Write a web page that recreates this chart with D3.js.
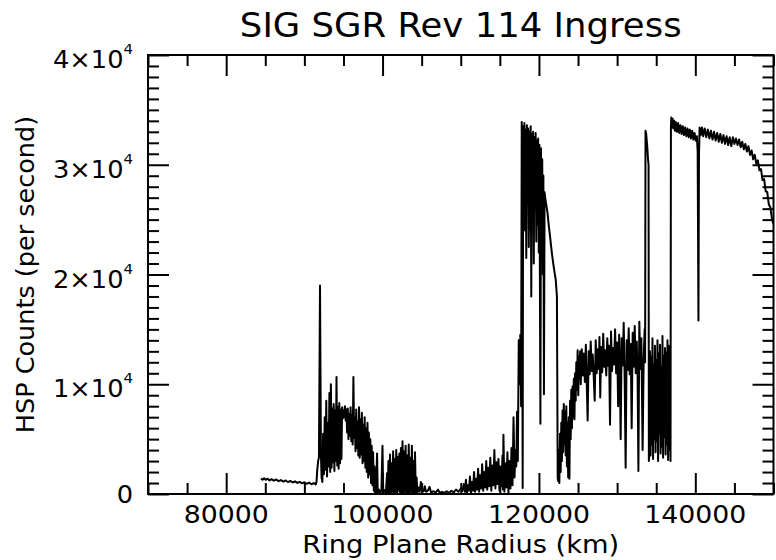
<!DOCTYPE html>
<html><head><meta charset="utf-8">
<script src="https://cdn.jsdelivr.net/npm/d3@7"></script>
<style>body{margin:0;background:#fff}svg{display:block}text{font-family:"DejaVu Sans",sans-serif;fill:#000}</style>
</head><body>
<svg id="chart" width="776" height="560"></svg>
<script>
const titleText = "SIG SGR Rev 114 Ingress";
const xLabel = "Ring Plane Radius (km)";
const yLabel = "HSP Counts (per second)";
const xMajorTicks = [80000, 100000, 120000, 140000];
const yMajorTicks = [0, 10000, 20000, 30000, 40000];
const yTickMantissa = ["0", "1", "2", "3", "4"];

// [ring plane radius (km), HSP counts per second]
const cRing = [[84450,1420],[84650,1300],[84850,1440],[85050,1290],[85300,1390],[85550,1240],[85800,1350],[86100,1210],[86400,1320],[86700,1170],[87000,1270],[87300,1130],[87600,1230],[87900,1090],[88200,1190],[88500,1050],[88800,1150],[89100,1010],[89400,1110],[89700,970],[90000,1070],[90300,930],[90600,1030],[90900,890],[91200,990],[91450,880]];
const bRingEdge = [[91550,1100],[91650,2200],[91760,3000],[91860,3300],[91940,12000],[92000,19000],[92060,11000],[92120,3500],[92200,1500],[92300,1100]];
const bRingInner = [[92400,5500],[92500,1800],[92600,7000],[92700,2200],[92800,8500],[92900,1600],[93000,6500],[93100,2500],[93200,9200],[93300,2000],[93390,10000],[93480,2400],[93570,7800],[93660,2900],[93750,8200],[93840,2100],[93930,7600],[94020,3000],[94110,10650],[94200,2600],[94290,7900],[94380,2300],[94470,8300],[94560,2800],[94650,7700],[94740,3200],[94830,7900],[94920,6900],[95010,7600],[95100,7000],[95190,8000],[95280,6700],[95370,7700],[95460,5600],[95550,7800],[95640,5000],[95730,7300],[95820,5300],[95910,7900],[96000,4800],[96090,7200],[96180,4500],[96270,10650],[96360,5100],[96450,7000],[96540,3900],[96630,7700],[96720,4200],[96810,6600],[96900,3500],[96990,7900],[97080,3300],[97170,6800],[97260,3600],[97350,7400],[97440,2800],[97530,6300],[97620,3000],[97710,7000],[97800,2400],[97890,6000],[97980,2000],[98070,6500],[98160,1500],[98250,5600],[98340,1800],[98430,5000],[98520,1000],[98610,4400],[98700,800],[98790,3800],[98880,300],[98970,2500],[99050,100]];
const bRingGap = [[99150,50],[99300,3700],[99380,100],[99550,400],[99700,50],[99850,300],[99990,4400],[100080,150],[100250,350],[100420,50],[100580,1900],[100660,100]];
const bRingCore = [[100750,3000],[100850,100],[100950,3600],[101050,0],[101150,2800],[101250,200],[101350,3900],[101450,0],[101550,3200],[101650,100],[101750,4000],[101850,0],[101950,3400],[102050,300],[102150,3700],[102250,0],[102350,4200],[102450,100],[102550,4800],[102650,0],[102750,3900],[102850,200],[102950,4400],[103050,0],[103150,3500],[103250,100],[103350,4500],[103450,0],[103550,3300],[103650,200],[103750,4400],[103850,0],[103950,3000],[104050,100],[104150,3800],[104250,0],[104350,1500],[104450,100]];
const bRingOpaque = [[104600,600],[104750,200],[104900,1100],[105050,300],[105250,250],[105400,700],[105550,200],[105800,300],[106000,650],[106200,150],[106500,250],[106800,150],[107100,400],[107300,100],[107600,200],[107900,100],[108200,250],[108500,100],[108800,300],[109100,150],[109400,400],[109700,200],[110000,500],[110200,250]];
const bRingOuter = [[110400,900],[110530,200],[110660,1300],[110790,100],[110920,800],[111050,300],[111180,1600],[111310,100],[111440,1100],[111570,300],[111700,2000],[111830,200],[111960,1400],[112090,400],[112220,2300],[112350,200],[112480,1700],[112610,500],[112740,2700],[112870,300],[113000,2000],[113130,600],[113260,3000],[113390,400],[113520,2400],[113650,700],[113780,3300],[113910,300],[114040,2600],[114170,800],[114300,4000],[114430,500],[114560,2900],[114690,900],[114820,3200],[114950,300],[115080,2500],[115210,700],[115340,3500],[115400,400],[115460,5400],[115580,200],[115710,2800],[115840,600],[115970,3800],[116100,100],[116230,3000],[116360,500],[116490,4200],[116620,800],[116750,7000],[116880,1500],[116990,4000],[117100,2500]];
const cassiniDivision = [[117200,7500],[117300,3000],[117420,14000],[117520,10000],[117620,14500],[117720,8000],[117800,33900],[117860,20000],[117920,550],[117980,33500],[118060,26000],[118140,33800],[118220,24000],[118300,33200],[118380,21500],[118460,33600],[118540,27000],[118620,33300],[118700,22500],[118780,33000],[118860,24200],[118940,33500],[119020,18000],[119100,32800],[119180,25000],[119260,33000],[119340,21000],[119420,32500],[119500,26000],[119580,32900],[119660,23000],[119740,32200],[119820,24500],[119900,32400],[119980,22000],[120060,31800],[120190,6400],[120260,31500],[120340,22000],[120420,30500],[120500,20000],[120570,29000],[120640,9100],[120720,27500],[120800,27000],[120950,26300],[121100,25600],[121250,24500],[121400,23600],[121550,22600],[121700,21700],[121850,20900],[122000,20200],[122150,19500],[122300,18000],[122400,1500]];
const aRingInner = [[122450,1200],[122530,4000],[122610,1000],[122700,5500],[122780,2000],[122860,6500],[122940,3000],[123020,7600],[123100,3800],[123180,8200],[123260,4500],[123340,7500],[123420,3500],[123500,8000],[123580,2500],[123660,6500],[123740,1500],[123820,7000],[123900,1400],[123980,8500],[124060,5000],[124140,9500],[124220,6000],[124300,9800],[124380,7000],[124460,10500],[124540,6800],[124620,11000],[124700,8500],[124780,12000],[124860,9500],[124950,13100],[125030,9000],[125110,12500],[125190,10500],[125270,13000],[125350,10000]];
const aRingMain = [[125480,13200],[125610,10800],[125740,12800],[125870,10200],[126000,13600],[126100,10500],[126230,6700],[126360,13000],[126490,10900],[126620,13900],[126750,11200],[126880,12700],[127010,10600],[127130,8500],[127260,14000],[127390,11000],[127520,13200],[127650,11400],[127740,14300],[127840,8800],[127960,13400],[128090,11100],[128220,14600],[128350,11600],[128480,13100],[128610,10800],[128740,14200],[128870,11700],[128960,13500],[129090,6300],[129220,14800],[129350,11200],[129480,13300],[129610,11800],[129740,15000],[129870,11000],[130000,13800],[130130,8000],[130260,14500],[130350,11500],[130450,5000],[130580,14200],[130710,11700],[130840,15600],[130960,10800],[131090,2400],[131220,14000],[131350,11300],[131480,15100],[131610,10900],[131740,13700],[131860,6000],[131990,14700],[132120,11600],[132250,15300],[132380,11000],[132510,13900],[132620,10600],[132720,2100],[132840,15700],[132970,11400],[133100,14200],[133260,4000],[133400,12500],[133520,15000]];
const enckeGap = [[133580,12000],[133630,33100],[133700,32900],[133780,32300],[133860,31600],[133950,30500],[134020,30000],[134060,3000]];
const aRingOuter = [[134120,4000],[134200,13000],[134280,3500],[134360,12500],[134440,4500],[134520,14200],[134600,3200],[134680,11800],[134760,5000],[134840,13500],[134920,3800],[135000,12200],[135080,4800],[135160,14000],[135240,3000],[135320,12800],[135400,5500],[135480,13600],[135560,3700],[135640,11500],[135720,4300],[135800,14400],[135880,3300],[135960,12600],[136040,5200],[136120,13300],[136200,3600],[136280,12900],[136360,4500],[136440,14000],[136520,3100],[136600,13500],[136680,4000],[136760,12000],[136830,3000]];
const beyondRings = [[136880,33400],[136930,34300],[137000,33400],[137100,34200],[137200,33300],[137300,34000],[137400,33100],[137500,33900],[137650,33000],[137800,33800],[137950,32900],[138100,33600],[138250,32800],[138400,33500],[138550,32700],[138700,33400],[138850,32600],[139000,33300],[139150,32500],[139300,33200],[139450,32400],[139600,33100],[139750,32300],[139900,32900],[140050,32200],[140200,32600],[140300,31200],[140400,15800],[140470,30800],[140550,33400],[140700,32700],[140850,33400],[141000,32600],[141200,33300],[141400,32500],[141600,33200],[141800,32400],[142000,33100],[142200,32300],[142400,33000],[142600,32200],[142800,32900],[143000,32100],[143200,32800],[143400,32000],[143600,32700],[143800,31900],[144000,32600],[144200,31800],[144400,32500],[144600,31700],[144800,32500],[145000,31900],[145200,32400],[145400,31800],[145600,32300],[145800,31600],[146000,32100],[146200,31400],[146400,31900],[146600,31200],[146800,31700],[147000,30900],[147200,31300],[147400,30500],[147600,30900],[147800,30100],[148000,30400],[148200,29500],[148400,29600],[148600,28600],[148800,28700],[149000,27600],[149200,27500],[149400,26400],[149600,26100],[149800,25100],[150000,24600]];

const series = [].concat(cRing, bRingEdge, bRingInner, bRingGap, bRingCore, bRingOpaque, bRingOuter,
  cassiniDivision, aRingInner, aRingMain, enckeGap, aRingOuter, beyondRings);

const svg = d3.select("#chart");
const L = 148, R = 773.5, T = 55, B = 494;
const x = d3.scaleLinear().domain([70000, 150000]).range([L, R]);
const y = d3.scaleLinear().domain([0, 40000]).range([B, T]);

svg.append("defs").append("clipPath").attr("id", "plotclip")
  .append("rect").attr("x", L).attr("y", T).attr("width", R - L).attr("height", B - T);

// data line
const line = d3.line().x(d => x(d[0])).y(d => y(d[1]));
svg.append("path").datum(series)
  .attr("clip-path", "url(#plotclip)")
  .attr("d", line).attr("fill", "none").attr("stroke", "#000")
  .attr("stroke-width", 2).attr("stroke-linejoin", "round");

// axes (ticks inward on all four sides)
const xMinor = x.ticks(16).filter(v => !xMajorTicks.includes(v));
const yMinor = y.ticks(40).filter(v => !yMajorTicks.includes(v));
const major = 21, minor = 11;
function addAxis(gen, scale, vals, size, tr) {
  const g = svg.append("g").attr("transform", tr)
    .call(gen(scale).tickValues(vals).tickSize(-size).tickSizeOuter(0).tickFormat(""));
  g.select(".domain").remove();
  g.selectAll("line").attr("stroke", "#000").attr("stroke-width", 2);
}
addAxis(d3.axisBottom, x, xMajorTicks, major, `translate(0,${B})`);
addAxis(d3.axisBottom, x, xMinor, minor, `translate(0,${B})`);
addAxis(d3.axisTop, x, xMajorTicks, major, `translate(0,${T})`);
addAxis(d3.axisTop, x, xMinor, minor, `translate(0,${T})`);
addAxis(d3.axisLeft, y, yMajorTicks, major, `translate(${L},0)`);
addAxis(d3.axisLeft, y, yMinor, minor, `translate(${L},0)`);
addAxis(d3.axisRight, y, yMajorTicks, major, `translate(${R},0)`);
addAxis(d3.axisRight, y, yMinor, minor, `translate(${R},0)`);

svg.append("rect").attr("x", L).attr("y", T).attr("width", R - L).attr("height", B - T)
  .attr("fill", "none").attr("stroke", "#000").attr("stroke-width", 2);

// title
svg.append("g").attr("transform", `translate(${(L + R) / 2},37) scale(1.075,1)`)
  .append("text").attr("text-anchor", "middle").attr("font-size", 33).text(titleText);

// x tick labels
svg.selectAll(".xlab").data(xMajorTicks).join("g").attr("class", "xlab")
  .attr("transform", d => `translate(${x(d)},523) scale(1.07,1)`)
  .append("text").attr("text-anchor", "middle").attr("font-size", 25).text(d => d3.format("d")(d));

// x title
svg.append("g").attr("transform", `translate(${(L + R) / 2},553) scale(1.07,1)`)
  .append("text").attr("text-anchor", "middle").attr("font-size", 25.5).text(xLabel);

// y tick labels
const ylab = svg.selectAll(".ylab").data(yMajorTicks).join("g").attr("class", "ylab")
  .attr("transform", (d, i) => `translate(133,${y(d) + (d === 0 ? 9 : 13)}) scale(1.07,1)`)
  .append("text").attr("text-anchor", "end").attr("font-size", 24);
ylab.each(function(d, i) {
  const t = d3.select(this);
  if (d === 0) { t.text(yTickMantissa[i]); return; }
  t.append("tspan").text(yTickMantissa[i] + "\u00d710");
  t.append("tspan").attr("dy", -14).attr("font-size", 14).text(String(Math.log10(d / +yTickMantissa[i])));
});

// y title
svg.append("g").attr("transform", `translate(34,${(T + B) / 2}) rotate(-90)`)
  .append("text").attr("text-anchor", "middle").attr("font-size", 25.5).text(yLabel);
</script>
</body></html>
